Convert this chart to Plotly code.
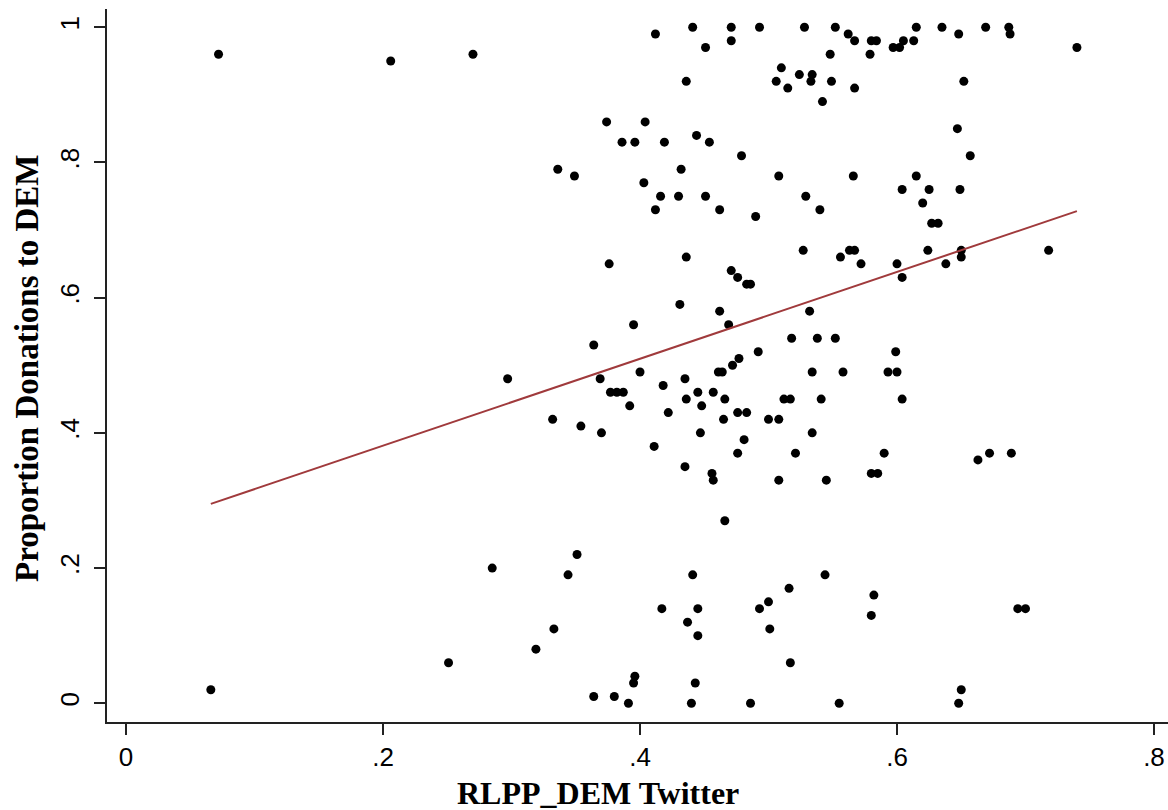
import plotly.graph_objects as go

# RLPP_DEM Twitter (x) and Proportion Donations to DEM (y)
rlpp_dem = [
    0.072, 0.206, 0.270, 0.066, 0.251, 0.285,
    0.412, 0.441, 0.471, 0.493, 0.471, 0.451, 0.436, 0.374, 0.404, 0.386,
    0.396, 0.419, 0.444, 0.454, 0.479, 0.336, 0.349, 0.432, 0.403, 0.416,
    0.430, 0.451, 0.412, 0.462, 0.490, 0.436,
    0.376, 0.471, 0.476, 0.483, 0.486, 0.431, 0.462, 0.469, 0.395, 0.364,
    0.492, 0.477, 0.472, 0.461, 0.464, 0.297, 0.369, 0.400, 0.435, 0.418,
    0.377, 0.382, 0.387, 0.445, 0.457, 0.436, 0.466, 0.392, 0.448, 0.422,
    0.476, 0.483, 0.332, 0.465, 0.500, 0.508, 0.354, 0.370, 0.447, 0.481,
    0.411, 0.476, 0.435, 0.456, 0.457, 0.508,
    0.466, 0.351, 0.344, 0.441, 0.417, 0.445, 0.493, 0.500, 0.437, 0.333,
    0.501, 0.445, 0.319, 0.396, 0.395, 0.443, 0.364, 0.380, 0.391, 0.440,
    0.486,
    0.528, 0.552, 0.562, 0.567, 0.580, 0.584, 0.615, 0.635, 0.648, 0.669,
    0.687, 0.688, 0.740, 0.548, 0.579, 0.597, 0.602, 0.605, 0.613, 0.510,
    0.506, 0.515, 0.524, 0.534, 0.533, 0.549, 0.542, 0.567, 0.652, 0.647,
    0.657, 0.508, 0.566, 0.615, 0.604, 0.625, 0.649, 0.529, 0.620, 0.540,
    0.627, 0.632, 0.527, 0.563, 0.567, 0.624, 0.650, 0.650, 0.718, 0.556,
    0.572, 0.600, 0.638, 0.604, 0.532, 0.518, 0.538, 0.552, 0.599, 0.534,
    0.558, 0.593, 0.600,
    0.512, 0.517, 0.541, 0.604, 0.534, 0.521, 0.590, 0.545, 0.580, 0.585,
    0.663, 0.672, 0.689, 0.544, 0.516, 0.582, 0.580, 0.694, 0.700, 0.517,
    0.650, 0.555, 0.648,
]
prop_dem = [
    0.96, 0.95, 0.96, 0.02, 0.06, 0.20,
    0.99, 1.00, 1.00, 1.00, 0.98, 0.97, 0.92, 0.86, 0.86, 0.83,
    0.83, 0.83, 0.84, 0.83, 0.81, 0.79, 0.78, 0.79, 0.77, 0.75,
    0.75, 0.75, 0.73, 0.73, 0.72, 0.66,
    0.65, 0.64, 0.63, 0.62, 0.62, 0.59, 0.58, 0.56, 0.56, 0.53,
    0.52, 0.51, 0.50, 0.49, 0.49, 0.48, 0.48, 0.49, 0.48, 0.47,
    0.46, 0.46, 0.46, 0.46, 0.46, 0.45, 0.45, 0.44, 0.44, 0.43,
    0.43, 0.43, 0.42, 0.42, 0.42, 0.42, 0.41, 0.40, 0.40, 0.39,
    0.38, 0.37, 0.35, 0.34, 0.33, 0.33,
    0.27, 0.22, 0.19, 0.19, 0.14, 0.14, 0.14, 0.15, 0.12, 0.11,
    0.11, 0.10, 0.08, 0.04, 0.03, 0.03, 0.01, 0.01, 0.00, 0.00,
    0.00,
    1.00, 1.00, 0.99, 0.98, 0.98, 0.98, 1.00, 1.00, 0.99, 1.00,
    1.00, 0.99, 0.97, 0.96, 0.96, 0.97, 0.97, 0.98, 0.98, 0.94,
    0.92, 0.91, 0.93, 0.93, 0.92, 0.92, 0.89, 0.91, 0.92, 0.85,
    0.81, 0.78, 0.78, 0.78, 0.76, 0.76, 0.76, 0.75, 0.74, 0.73,
    0.71, 0.71, 0.67, 0.67, 0.67, 0.67, 0.67, 0.66, 0.67, 0.66,
    0.65, 0.65, 0.65, 0.63, 0.58, 0.54, 0.54, 0.54, 0.52, 0.49,
    0.49, 0.49, 0.49,
    0.45, 0.45, 0.45, 0.45, 0.40, 0.37, 0.37, 0.33, 0.34, 0.34,
    0.36, 0.37, 0.37, 0.19, 0.17, 0.16, 0.13, 0.14, 0.14, 0.06,
    0.02, 0.00, 0.00,
]

# Linear fit line (endpoints)
fit_x = [0.066, 0.740]
fit_y = [0.295, 0.728]

x_tickvals = [0, 0.2, 0.4, 0.6, 0.8]
x_ticktext = ["0", ".2", ".4", ".6", ".8"]
y_tickvals = [0, 0.2, 0.4, 0.6, 0.8, 1.0]
y_ticktext = ["0", ".2", ".4", ".6", ".8", "1"]

x_title = "RLPP_DEM Twitter"
y_title = "Proportion Donations to DEM"

fig = go.Figure()
fig.add_trace(go.Scatter(
    x=rlpp_dem, y=prop_dem, mode="markers",
    marker=dict(color="black", size=9, line=dict(width=0)),
    showlegend=False, hoverinfo="x+y",
))
fig.add_trace(go.Scatter(
    x=fit_x, y=fit_y, mode="lines",
    line=dict(color="#A03A3C", width=2),
    showlegend=False,
))

W, H = 1168, 810
ml, mr, mt, mb = 107, 0, 9, 88
pw, ph = W - ml - mr, H - mt - mb

axis_common = dict(
    showgrid=False, zeroline=False, showline=True,
    linecolor="#222222", linewidth=1.5,
    ticks="outside", ticklen=11, tickwidth=1.5, tickcolor="#222222",
)

fig.update_layout(
    width=W, height=H,
    margin=dict(l=ml, r=mr, t=mt, b=mb, pad=0),
    paper_bgcolor="white", plot_bgcolor="white",
    font=dict(family="Liberation Sans, Arial, sans-serif", color="black"),
    xaxis=dict(
        range=[-0.0148, 0.8109], tickvals=x_tickvals, ticktext=x_ticktext,
        tickfont=dict(size=26, family="Liberation Sans, Arial, sans-serif"),
        ticklabelstandoff=0,
        **axis_common,
    ),
    yaxis=dict(
        range=[-0.0277, 1.027], tickvals=y_tickvals, ticktext=y_ticktext,
        tickangle=-90,
        tickfont=dict(size=26, family="Liberation Sans, Arial, sans-serif"),
        ticklabelstandoff=5,
        **axis_common,
    ),
    annotations=[
        dict(text=f"<b>{x_title}</b>", xref="paper", yref="paper",
             x=(598 - ml) / pw, y=(722 - 793) / ph,
             xanchor="center", yanchor="middle", showarrow=False,
             font=dict(family="Liberation Serif, Times New Roman, serif", size=32, color="black")),
        dict(text=f"<b>{y_title}</b>", xref="paper", yref="paper",
             x=(27 - ml) / pw, y=(722 - 368) / ph, textangle=-90,
             xanchor="center", yanchor="middle", showarrow=False,
             font=dict(family="Liberation Serif, Times New Roman, serif", size=33, color="black")),
    ],
)

fig.write_html("out.html")
